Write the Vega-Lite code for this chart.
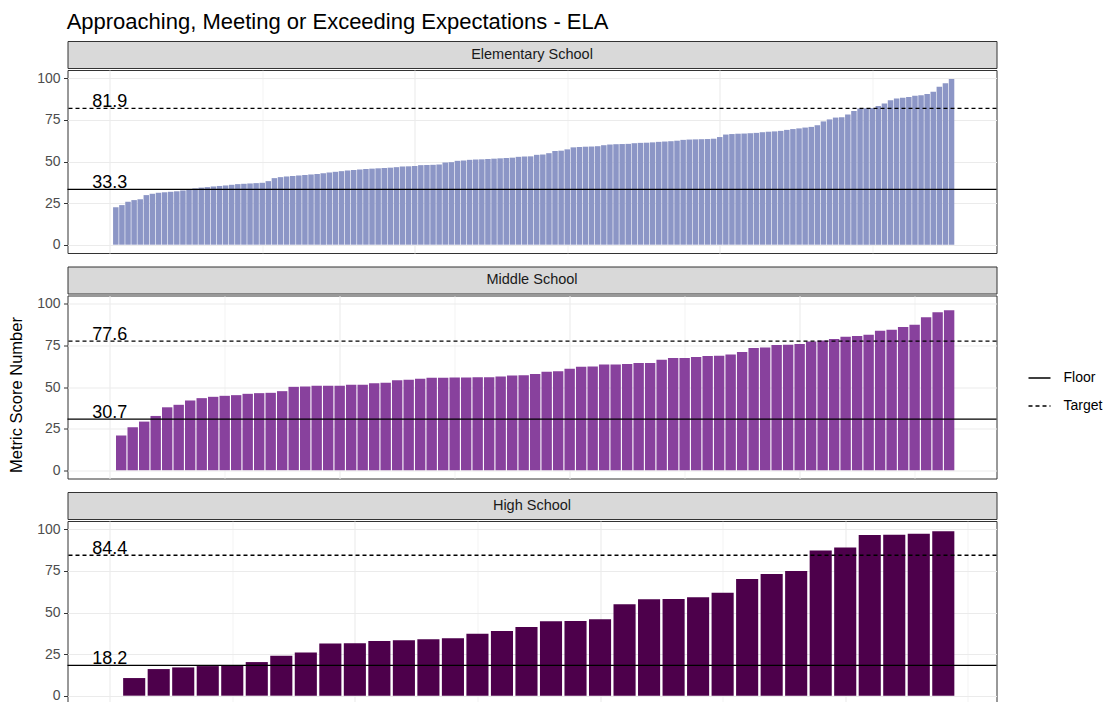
{
  "$schema": "https://vega.github.io/schema/vega-lite/v6.json",
  "padding": {"left": 7.5, "top": 11, "right": 5, "bottom": 0},
  "background": "white",
  "title": {"text": "Approaching, Meeting or Exceeding Expectations - ELA", "anchor": "start", "fontSize": 22, "font": "Liberation Sans", "fontWeight": "normal", "color": "black", "offset": 6.5, "dx": 58.5},
  "datasets": {
    "elem": [
      {"rank":1,"value":22.5},{"rank":2,"value":23.8},{"rank":3,"value":25.8},{"rank":4,"value":26.8},{"rank":5,"value":27.3},{"rank":6,"value":29.8},{"rank":7,"value":30.6},{"rank":8,"value":31.2},{"rank":9,"value":31.5},{"rank":10,"value":31.8},
      {"rank":11,"value":32.1},{"rank":12,"value":32.6},{"rank":13,"value":33.4},{"rank":14,"value":33.8},{"rank":15,"value":34.3},{"rank":16,"value":34.6},{"rank":17,"value":35.0},{"rank":18,"value":35.3},{"rank":19,"value":35.6},{"rank":20,"value":36.0},
      {"rank":21,"value":36.4},{"rank":22,"value":36.6},{"rank":23,"value":36.8},{"rank":24,"value":37.0},{"rank":25,"value":37.2},{"rank":26,"value":38.2},{"rank":27,"value":40.0},{"rank":28,"value":40.6},{"rank":29,"value":41.0},{"rank":30,"value":41.3},
      {"rank":31,"value":41.6},{"rank":32,"value":41.9},{"rank":33,"value":42.2},{"rank":34,"value":42.5},{"rank":35,"value":43.0},{"rank":36,"value":43.4},{"rank":37,"value":43.8},{"rank":38,"value":44.2},{"rank":39,"value":44.6},{"rank":40,"value":44.9},
      {"rank":41,"value":45.2},{"rank":42,"value":45.5},{"rank":43,"value":45.7},{"rank":44,"value":45.9},{"rank":45,"value":46.1},{"rank":46,"value":46.3},{"rank":47,"value":46.6},{"rank":48,"value":47.0},{"rank":49,"value":47.1},{"rank":50,"value":47.3},
      {"rank":51,"value":47.8},{"rank":52,"value":47.9},{"rank":53,"value":48.0},{"rank":54,"value":48.2},{"rank":55,"value":49.4},{"rank":56,"value":49.6},{"rank":57,"value":50.4},{"rank":58,"value":50.6},{"rank":59,"value":51.0},{"rank":60,"value":51.2},
      {"rank":61,"value":51.3},{"rank":62,"value":51.5},{"rank":63,"value":51.7},{"rank":64,"value":51.9},{"rank":65,"value":52.1},{"rank":66,"value":52.3},{"rank":67,"value":52.8},{"rank":68,"value":53.0},{"rank":69,"value":53.1},{"rank":70,"value":54.0},
      {"rank":71,"value":54.2},{"rank":72,"value":55.0},{"rank":73,"value":56.3},{"rank":74,"value":56.5},{"rank":75,"value":57.3},{"rank":76,"value":58.5},{"rank":77,"value":58.7},{"rank":78,"value":58.9},{"rank":79,"value":59.0},{"rank":80,"value":59.2},
      {"rank":81,"value":59.8},{"rank":82,"value":60.2},{"rank":83,"value":60.4},{"rank":84,"value":60.5},{"rank":85,"value":60.6},{"rank":86,"value":61.0},{"rank":87,"value":61.2},{"rank":88,"value":61.3},{"rank":89,"value":61.5},{"rank":90,"value":61.8},
      {"rank":91,"value":62.0},{"rank":92,"value":62.2},{"rank":93,"value":62.5},{"rank":94,"value":63.0},{"rank":95,"value":63.2},{"rank":96,"value":63.3},{"rank":97,"value":63.4},{"rank":98,"value":63.5},{"rank":99,"value":63.7},{"rank":100,"value":64.7},
      {"rank":101,"value":66.2},{"rank":102,"value":66.5},{"rank":103,"value":66.7},{"rank":104,"value":66.8},{"rank":105,"value":67.0},{"rank":106,"value":67.2},{"rank":107,"value":67.6},{"rank":108,"value":67.9},{"rank":109,"value":68.1},{"rank":110,"value":68.4},
      {"rank":111,"value":69.0},{"rank":112,"value":69.5},{"rank":113,"value":69.9},{"rank":114,"value":70.4},{"rank":115,"value":70.8},{"rank":116,"value":71.8},{"rank":117,"value":74.1},{"rank":118,"value":75.3},{"rank":119,"value":76.4},{"rank":120,"value":76.6},
      {"rank":121,"value":78.3},{"rank":122,"value":80.4},{"rank":123,"value":81.8},{"rank":124,"value":82.0},{"rank":125,"value":82.2},{"rank":126,"value":83.4},{"rank":127,"value":84.8},{"rank":128,"value":86.8},{"rank":129,"value":87.8},{"rank":130,"value":88.3},
      {"rank":131,"value":88.8},{"rank":132,"value":89.5},{"rank":133,"value":89.8},{"rank":134,"value":90.6},{"rank":135,"value":92.0},{"rank":136,"value":95.0},{"rank":137,"value":97.0},{"rank":138,"value":99.6}
    ],
    "mid": [
      {"rank":1,"value":20.8},{"rank":2,"value":25.8},{"rank":3,"value":29.2},{"rank":4,"value":32.6},{"rank":5,"value":37.8},{"rank":6,"value":39.3},{"rank":7,"value":41.9},{"rank":8,"value":43.3},{"rank":9,"value":44.1},{"rank":10,"value":44.7},
      {"rank":11,"value":45.1},{"rank":12,"value":45.9},{"rank":13,"value":46.3},{"rank":14,"value":46.5},{"rank":15,"value":47.5},{"rank":16,"value":50.1},{"rank":17,"value":50.3},{"rank":18,"value":50.7},{"rank":19,"value":50.7},{"rank":20,"value":50.8},
      {"rank":21,"value":51.3},{"rank":22,"value":51.4},{"rank":23,"value":52.3},{"rank":24,"value":52.5},{"rank":25,"value":54.1},{"rank":26,"value":54.3},{"rank":27,"value":54.9},{"rank":28,"value":55.5},{"rank":29,"value":55.5},{"rank":30,"value":55.7},
      {"rank":31,"value":55.7},{"rank":32,"value":55.9},{"rank":33,"value":55.9},{"rank":34,"value":56.3},{"rank":35,"value":56.9},{"rank":36,"value":57.1},{"rank":37,"value":57.8},{"rank":38,"value":59.1},{"rank":39,"value":59.5},{"rank":40,"value":60.9},
      {"rank":41,"value":62.1},{"rank":42,"value":62.3},{"rank":43,"value":63.5},{"rank":44,"value":63.5},{"rank":45,"value":63.9},{"rank":46,"value":64.5},{"rank":47,"value":64.5},{"rank":48,"value":66.4},{"rank":49,"value":67.4},{"rank":50,"value":67.4},
      {"rank":51,"value":68.0},{"rank":52,"value":68.6},{"rank":53,"value":68.8},{"rank":54,"value":69.6},{"rank":55,"value":71.0},{"rank":56,"value":73.4},{"rank":57,"value":73.8},{"rank":58,"value":75.2},{"rank":59,"value":75.4},{"rank":60,"value":75.8},
      {"rank":61,"value":77.4},{"rank":62,"value":78.0},{"rank":63,"value":78.8},{"rank":64,"value":80.2},{"rank":65,"value":80.6},{"rank":66,"value":81.4},{"rank":67,"value":83.8},{"rank":68,"value":84.4},{"rank":69,"value":86.0},{"rank":70,"value":87.4},
      {"rank":71,"value":92.0},{"rank":72,"value":94.9},{"rank":73,"value":96.1}
    ],
    "high": [
      {"rank":1,"value":10.6},{"rank":2,"value":16.0},{"rank":3,"value":17.0},{"rank":4,"value":17.8},{"rank":5,"value":18.0},{"rank":6,"value":20.2},{"rank":7,"value":24.0},{"rank":8,"value":25.9},{"rank":9,"value":31.3},{"rank":10,"value":31.5},
      {"rank":11,"value":32.9},{"rank":12,"value":33.3},{"rank":13,"value":33.9},{"rank":14,"value":34.5},{"rank":15,"value":37.3},{"rank":16,"value":38.9},{"rank":17,"value":41.3},{"rank":18,"value":44.7},{"rank":19,"value":44.9},{"rank":20,"value":45.9},
      {"rank":21,"value":54.9},{"rank":22,"value":57.9},{"rank":23,"value":58.1},{"rank":24,"value":59.1},{"rank":25,"value":61.9},{"rank":26,"value":70.2},{"rank":27,"value":73.1},{"rank":28,"value":75.0},{"rank":29,"value":87.2},{"rank":30,"value":89.0},
      {"rank":31,"value":96.6},{"rank":32,"value":96.8},{"rank":33,"value":97.4},{"rank":34,"value":98.8}
    ],
    "lines": [
      {"level":"Elementary School","type":"Floor","value":33.3},
      {"level":"Elementary School","type":"Target","value":81.9},
      {"level":"Middle School","type":"Floor","value":30.7},
      {"level":"Middle School","type":"Target","value":77.6},
      {"level":"High School","type":"Floor","value":18.2},
      {"level":"High School","type":"Target","value":84.4}
    ]
  },
  "spacing": 11.5,
  "vconcat": [
    {
      "spacing": 0,
      "vconcat": [
        {
          "width": 929, "height": 27,
          "data": {"values": [{"level": "Elementary School"}]},
          "view": {"fill": "#d9d9d9", "stroke": "#333333", "strokeWidth": 1},
          "mark": {"type": "text", "fontSize": 14.5, "font": "Liberation Sans", "color": "#1a1a1a"},
          "encoding": {"text": {"field": "level", "type": "nominal"}}
        },
        {
          "width": 929, "height": 183,
          "layer": [
            {
              "data": {"name": "elem"},
              "mark": {"type": "bar", "orient": "vertical", "width": 5.5, "color": "#8c96c6", "opacity": 1},
              "encoding": {
                "x": {"field": "rank", "type": "quantitative", "scale": {"domain": [-6.92, 145.37], "nice": false, "zero": false, "padding": 0},
                  "axis": {"values": [0, 25, 50, 75, 100, 125], "labels": false, "ticks": false, "domain": false, "title": null, "grid": true, "gridColor": "#ebebeb",
                    "gridWidth": {"condition": {"test": "datum.value % 50 === 0", "value": 1.1}, "value": 0.6}}},
                "y": {"field": "value", "type": "quantitative", "scale": {"domain": [-5, 105], "nice": false, "zero": false, "padding": 0},
                  "axis": {"values": [0, 12.5, 25, 37.5, 50, 62.5, 75, 87.5, 100], "labelExpr": "datum.value % 25 === 0 ? datum.label : ''", "labelOverlap": false,
                    "tickOpacity": {"condition": {"test": "datum.value % 25 === 0", "value": 1}, "value": 0},
                    "gridWidth": {"condition": {"test": "datum.value % 25 === 0", "value": 1.1}, "value": 0.6},
                    "grid": true, "gridColor": "#ebebeb", "domain": false, "tickColor": "#333333", "tickSize": 4, "tickWidth": 1,
                    "labelColor": "#4d4d4d", "labelFontSize": 14, "labelFont": "Liberation Sans", "labelPadding": 3.5, "title": null}}
              }
            },
            {
              "data": {"name": "lines"},
              "transform": [{"filter": "datum.level === 'Elementary School'"}],
              "mark": {"type": "rule", "color": "black", "strokeWidth": 1.3},
              "encoding": {
                "y": {"field": "value", "type": "quantitative", "scale": {"domain": [-5, 105], "nice": false, "zero": false, "padding": 0}},
                "strokeDash": {"field": "type", "type": "nominal", "scale": {"domain": ["Floor", "Target"], "range": [[1, 0], [4, 3]]},
                  "legend": {"title": null, "orient": "none", "legendX": 960, "legendY": 325, "symbolType": "stroke", "symbolStrokeColor": "black", "symbolStrokeWidth": 1.3, "symbolSize": 484, "labelFontSize": 14, "labelColor": "black", "labelFont": "Liberation Sans", "rowPadding": 9, "labelOffset": 12}}
              }
            },
            {
              "data": {"name": "lines"},
              "transform": [{"filter": "datum.level === 'Elementary School'"}],
              "mark": {"type": "text", "fontSize": 18, "font": "Liberation Sans", "color": "black", "baseline": "alphabetic", "align": "center", "dy": -1.5},
              "encoding": {
                "x": {"datum": 0, "type": "quantitative", "scale": {"domain": [-6.92, 145.37], "nice": false, "zero": false, "padding": 0}},
                "y": {"field": "value", "type": "quantitative", "scale": {"domain": [-5, 105], "nice": false, "zero": false, "padding": 0}},
                "text": {"field": "value", "type": "quantitative", "format": ".1f"}
              }
            }
          ]
        }
      ]
    },
    {
      "spacing": 0,
      "vconcat": [
        {
          "width": 929, "height": 27,
          "data": {"values": [{"level": "Middle School"}]},
          "view": {"fill": "#d9d9d9", "stroke": "#333333", "strokeWidth": 1},
          "mark": {"type": "text", "fontSize": 14.5, "font": "Liberation Sans", "color": "#1a1a1a"},
          "encoding": {"text": {"field": "level", "type": "nominal"}}
        },
        {
          "width": 929, "height": 183,
          "layer": [
            {
              "data": {"name": "mid"},
              "mark": {"type": "bar", "orient": "vertical", "width": 10.4, "color": "#88419d", "opacity": 1},
              "encoding": {
                "x": {"field": "rank", "type": "quantitative", "scale": {"domain": [-3.67, 77.12], "nice": false, "zero": false, "padding": 0},
                  "axis": {"values": [0, 10, 20, 30, 40, 50, 60, 70], "labels": false, "ticks": false, "domain": false, "title": null, "grid": true, "gridColor": "#ebebeb",
                    "gridWidth": {"condition": {"test": "datum.value % 20 === 0", "value": 1.1}, "value": 0.6}}},
                "y": {"field": "value", "type": "quantitative", "scale": {"domain": [-5, 105], "nice": false, "zero": false, "padding": 0},
                  "axis": {"values": [0, 12.5, 25, 37.5, 50, 62.5, 75, 87.5, 100], "labelExpr": "datum.value % 25 === 0 ? datum.label : ''", "labelOverlap": false,
                    "tickOpacity": {"condition": {"test": "datum.value % 25 === 0", "value": 1}, "value": 0},
                    "gridWidth": {"condition": {"test": "datum.value % 25 === 0", "value": 1.1}, "value": 0.6},
                    "grid": true, "gridColor": "#ebebeb", "domain": false, "tickColor": "#333333", "tickSize": 4, "tickWidth": 1,
                    "labelColor": "#4d4d4d", "labelFontSize": 14, "labelFont": "Liberation Sans", "labelPadding": 3.5,
                    "title": "Metric Score Number", "titleFontSize": 16.5, "titleFont": "Liberation Sans", "titleFontWeight": "normal", "titleColor": "black", "titlePadding": 12, "titleY": 99}}
              }
            },
            {
              "data": {"name": "lines"},
              "transform": [{"filter": "datum.level === 'Middle School'"}],
              "mark": {"type": "rule", "color": "black", "strokeWidth": 1.3},
              "encoding": {
                "y": {"field": "value", "type": "quantitative", "scale": {"domain": [-5, 105], "nice": false, "zero": false, "padding": 0}},
                "strokeDash": {"field": "type", "type": "nominal", "scale": {"domain": ["Floor", "Target"], "range": [[1, 0], [4, 3]]}}
              }
            },
            {
              "data": {"name": "lines"},
              "transform": [{"filter": "datum.level === 'Middle School'"}],
              "mark": {"type": "text", "fontSize": 18, "font": "Liberation Sans", "color": "black", "baseline": "alphabetic", "align": "center", "dy": -1.5},
              "encoding": {
                "x": {"datum": 0, "type": "quantitative", "scale": {"domain": [-3.67, 77.12], "nice": false, "zero": false, "padding": 0}},
                "y": {"field": "value", "type": "quantitative", "scale": {"domain": [-5, 105], "nice": false, "zero": false, "padding": 0}},
                "text": {"field": "value", "type": "quantitative", "format": ".1f"}
              }
            }
          ]
        }
      ]
    },
    {
      "spacing": 0,
      "vconcat": [
        {
          "width": 929, "height": 27,
          "data": {"values": [{"level": "High School"}]},
          "view": {"fill": "#d9d9d9", "stroke": "#333333", "strokeWidth": 1},
          "mark": {"type": "text", "fontSize": 14.5, "font": "Liberation Sans", "color": "#1a1a1a"},
          "encoding": {"text": {"field": "level", "type": "nominal"}}
        },
        {
          "width": 929, "height": 183,
          "layer": [
            {
              "data": {"name": "high"},
              "mark": {"type": "bar", "orient": "vertical", "width": 22.1, "color": "#4d004b", "opacity": 1},
              "encoding": {
                "x": {"field": "rank", "type": "quantitative", "scale": {"domain": [-1.72, 36.17], "nice": false, "zero": false, "padding": 0},
                  "axis": {"values": [0, 5, 10, 15, 20, 25, 30, 35], "labels": false, "ticks": false, "domain": false, "title": null, "grid": true, "gridColor": "#ebebeb",
                    "gridWidth": {"condition": {"test": "datum.value % 10 === 0", "value": 1.1}, "value": 0.6}}},
                "y": {"field": "value", "type": "quantitative", "scale": {"domain": [-5, 105], "nice": false, "zero": false, "padding": 0},
                  "axis": {"values": [0, 12.5, 25, 37.5, 50, 62.5, 75, 87.5, 100], "labelExpr": "datum.value % 25 === 0 ? datum.label : ''", "labelOverlap": false,
                    "tickOpacity": {"condition": {"test": "datum.value % 25 === 0", "value": 1}, "value": 0},
                    "gridWidth": {"condition": {"test": "datum.value % 25 === 0", "value": 1.1}, "value": 0.6},
                    "grid": true, "gridColor": "#ebebeb", "domain": false, "tickColor": "#333333", "tickSize": 4, "tickWidth": 1,
                    "labelColor": "#4d4d4d", "labelFontSize": 14, "labelFont": "Liberation Sans", "labelPadding": 3.5, "title": null}}
              }
            },
            {
              "data": {"name": "lines"},
              "transform": [{"filter": "datum.level === 'High School'"}],
              "mark": {"type": "rule", "color": "black", "strokeWidth": 1.3},
              "encoding": {
                "y": {"field": "value", "type": "quantitative", "scale": {"domain": [-5, 105], "nice": false, "zero": false, "padding": 0}},
                "strokeDash": {"field": "type", "type": "nominal", "scale": {"domain": ["Floor", "Target"], "range": [[1, 0], [4, 3]]}}
              }
            },
            {
              "data": {"name": "lines"},
              "transform": [{"filter": "datum.level === 'High School'"}],
              "mark": {"type": "text", "fontSize": 18, "font": "Liberation Sans", "color": "black", "baseline": "alphabetic", "align": "center", "dy": -1.5},
              "encoding": {
                "x": {"datum": 0, "type": "quantitative", "scale": {"domain": [-1.72, 36.17], "nice": false, "zero": false, "padding": 0}},
                "y": {"field": "value", "type": "quantitative", "scale": {"domain": [-5, 105], "nice": false, "zero": false, "padding": 0}},
                "text": {"field": "value", "type": "quantitative", "format": ".1f"}
              }
            }
          ]
        }
      ]
    }
  ],
  "config": {
    "font": "Liberation Sans",
    "view": {"stroke": "#333333", "strokeWidth": 1}
  }
}
